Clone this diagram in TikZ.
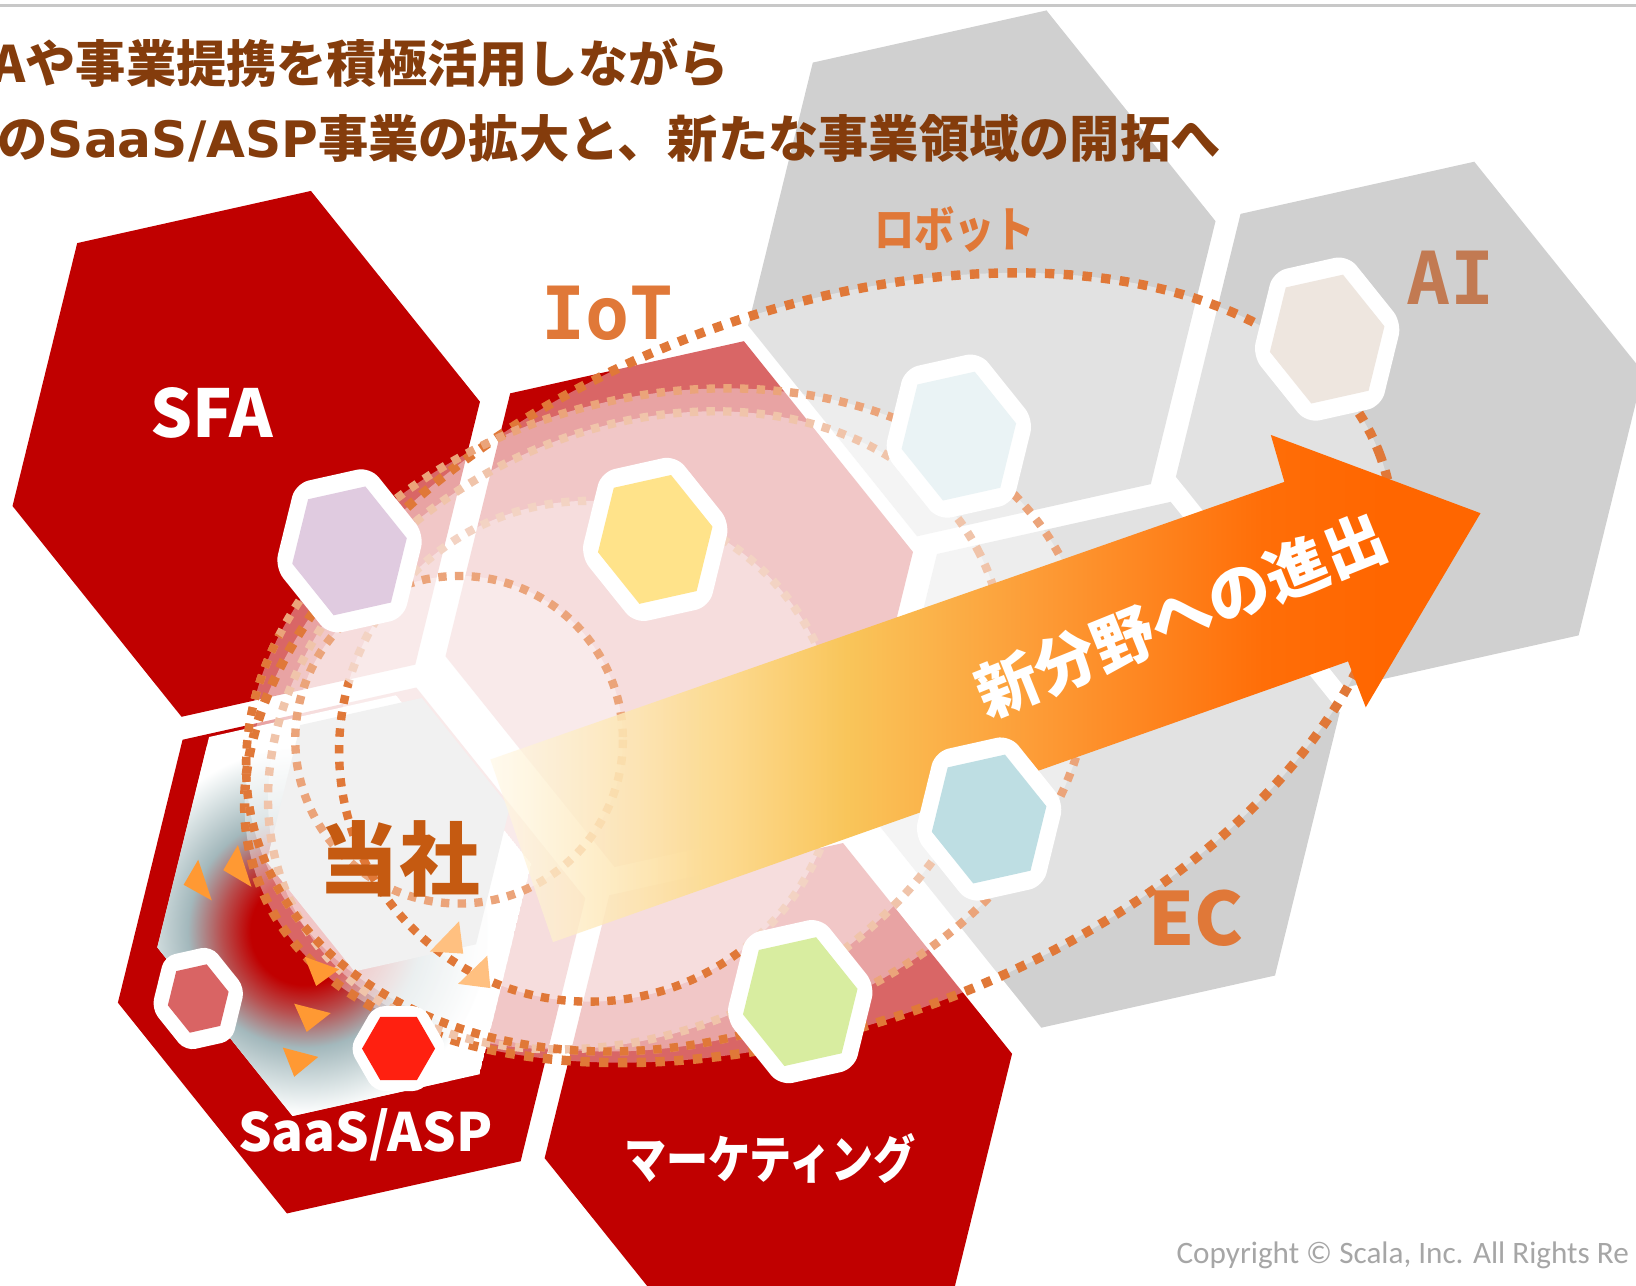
\documentclass[tikz,border=0pt]{standalone}
\usepackage{fontspec}
\newfontfamily\jpf{Noto Sans CJK JP}
\newfontfamily\latf{DejaVu Sans}
\newfontfamily\monof{DejaVu Sans Mono}
\newfontfamily\calf{Carlito}
\usetikzlibrary{shapes.geometric,fadings}
\definecolor{hexred}{HTML}{C00000}
\definecolor{hexgray}{HTML}{D0D0D0}
\definecolor{titlebrown}{HTML}{843C0C}
\definecolor{lblorange}{HTML}{E07838}
\definecolor{aibrown}{HTML}{C27A52}
\definecolor{tousha}{HTML}{C55A11}
\definecolor{dotdark}{HTML}{E07838}
\definecolor{dotmid}{HTML}{EBA47A}
\definecolor{dotlight}{HTML}{F0C4AA}
\definecolor{dotpale}{HTML}{F3D3C3}
\definecolor{cpurple}{HTML}{E0CBE0}
\definecolor{cyellow}{HTML}{FFE38A}
\definecolor{cpale}{HTML}{EAF3F5}
\definecolor{cbeige}{HTML}{EEE6DF}
\definecolor{cblue}{HTML}{BEDEE3}
\definecolor{cgreen}{HTML}{D8EDA0}
\definecolor{cpink}{HTML}{D96464}
\definecolor{cred}{HTML}{FF2010}
\definecolor{triorange}{HTML}{FF9933}
\definecolor{trilight}{HTML}{FFC080}
\definecolor{glowblue}{HTML}{A3B8BC}
\definecolor{glowmid}{HTML}{B85050}
\definecolor{glowlight}{HTML}{DCE5E6}
\definecolor{toushahex}{HTML}{F1F1F1}
\definecolor{arA}{HTML}{FFF8E4}
\definecolor{arB}{HTML}{FCD98E}
\definecolor{arC}{HTML}{F9C55A}
\definecolor{arD}{HTML}{FD9A35}
\definecolor{arE}{HTML}{FF6E08}
\definecolor{arF}{HTML}{FF6600}
\definecolor{copygray}{HTML}{A6A6A6}
\definecolor{topline}{HTML}{C8C8C8}

\pgfdeclareradialshading{glowshade}{\pgfpoint{0bp}{0bp}}{color(0bp)=(hexred); color(6.5bp)=(hexred); color(10bp)=(glowmid); color(14bp)=(glowblue); color(19bp)=(glowlight); color(22bp)=(white); color(50bp)=(white)}
\pgfdeclarehorizontalshading{arrowshade}{100bp}{color(0bp)=(arA); color(25bp)=(arA); color(37bp)=(arB); color(43bp)=(arC); color(53bp)=(arD); color(64bp)=(arE); color(70bp)=(arF); color(100bp)=(arF)}
\begin{tikzfadingfrompicture}[name=arrowfade]
  \fill[transparent!100] (-50bp,-50bp) rectangle (-44.8bp,50bp);
  \shade[left color=transparent!100, right color=transparent!0] (-45bp,-50bp) rectangle (-14bp,50bp);
  \fill[transparent!0] (-14.3bp,-50bp) rectangle (50bp,50bp);
\end{tikzfadingfrompicture}

% hexagon: centre (#1,#2), scale #3
\newcommand\hexpath[3]{({#1+#3*224},{#2-#3*50}) -- ({#1+#3*62},{#2-#3*252}) -- ({#1-#3*162},{#2-#3*202}) -- ({#1-#3*224},{#2+#3*50}) -- ({#1-#3*62},{#2+#3*252}) -- ({#1+#3*162},{#2+#3*202}) -- cycle}
\newcommand\smallhex[3]{%
  \fill[white, rounded corners=1.3mm] \hexpath{#1}{#2}{0.32};
  \fill[#3] \hexpath{#1}{#2}{0.245};}

\tikzset{
  ringfill/.style={fill=white, fill opacity=0.4},
  dotsA/.style={draw=dotdark, line width=0.9mm, dash pattern=on 0.9mm off 0.9mm},
  dotsB/.style={line width=0.8mm, dash pattern=on 0.8mm off 0.8mm},
  lbl/.style={inner sep=0pt, font=\jpf\bfseries},
  tri/.style={fill=triorange},
}

\begin{document}
\begin{tikzpicture}[x=0.1mm, y=-0.1mm]
\useasboundingbox (0,0) rectangle (1568,1232);
\draw[topline, line width=0.25mm] (0,5) -- (1568,5);

% big hexagons
\fill[hexred] \hexpath{236}{435}{1};   % SFA
\fill[hexred] \hexpath{651}{579}{1};   % IoT
\fill[hexred] \hexpath{337}{911}{1};   % SaaS
\fill[hexred] \hexpath{746}{1060}{1};  % marketing
\fill[hexgray] \hexpath{941}{262}{1};  % robot
\fill[hexgray] \hexpath{1351}{407}{1}; % AI
\fill[hexgray] \hexpath{1060}{733}{1}; % EC

% glow inside SaaS
\begin{scope}
  \clip \hexpath{330}{868}{0.8};
  \fill[white] \hexpath{330}{868}{0.8};
  \shade[shading=glowshade] (292,892) circle (200);
\end{scope}

% ring fills
\fill[ringfill, rotate around={21:(785,640)}] (785,640) ellipse [x radius=575, y radius=340];
\fill[ringfill, rotate around={15:(640,690)}] (640,690) ellipse [x radius=410, y radius=310];
\fill[ringfill, rotate around={28:(610,700)}] (610,700) ellipse [x radius=370, y radius=285];
\fill[ringfill] (565,720) circle (240);
\fill[ringfill] (440,709) circle (157);

% company hexagon
\fill[toushahex] \hexpath{372}{800}{0.52};

% dotted rings
\draw[dotsA, rotate around={21:(785,640)}] (785,640) ellipse [x radius=575, y radius=340];
\draw[dotsB, draw=dotmid, rotate around={15:(640,690)}] (640,690) ellipse [x radius=410, y radius=310];
\draw[dotsB, draw=dotlight, rotate around={28:(610,700)}] (610,700) ellipse [x radius=370, y radius=285];
\draw[dotsB, draw=dotpale] (565,720) circle (240);
\draw[dotsB, draw=dotmid] (440,709) circle (157);
\begin{scope}
  \clip (0,430) -- (1000,1100) -- (1000,1300) -- (0,1300) -- cycle;
  \draw[dotsB, draw=dotdark, rotate around={15:(640,690)}] (640,690) ellipse [x radius=410, y radius=310];
  \draw[dotsB, draw=dotdark] (565,720) circle (240);
\end{scope}

% arrow
\shade[shading=arrowshade, path fading=arrowfade, fit fading=true] (470,728) -- (1231,462) -- (1218,417) -- (1419,492) -- (1309,678) -- (1292,634) -- (530,903) -- cycle;

% small hexagons
\smallhex{335}{528}{cpurple}
\smallhex{628}{517}{cyellow}
\smallhex{919}{418}{cpale}
\smallhex{1272}{325}{cbeige}
\smallhex{948}{785}{cblue}
\smallhex{767}{960}{cgreen}
\fill[white, rounded corners=1mm] \hexpath{190}{957}{0.2};
\fill[cpink] \hexpath{190}{957}{0.13};
\node[regular polygon, regular polygon sides=6, minimum size=9.4mm, inner sep=0pt, fill=white, rounded corners=1mm] (redhexo) at (382,1005) {};
\node[regular polygon, regular polygon sides=6, minimum size=7.0mm, inner sep=0pt, fill=cred] (redhexi) at (382,1005) {};

% triangles
\fill[tri] (190,824) -- (176,848) -- (203,863) -- cycle;
\fill[tri] (228,810) -- (214,834) -- (241,850) -- cycle;
\fill[tri] (292,917) -- (303,945) -- (325,929) -- cycle;
\fill[tri] (282,962) -- (294,989) -- (317,971) -- cycle;
\fill[tri] (271,1004) -- (282,1032) -- (305,1013) -- cycle;
\fill[trilight] (440,883) -- (412,912) -- (444,914) -- cycle;
\fill[trilight] (467,916) -- (439,943) -- (470,947) -- cycle;

% labels
\node[lbl, text=titlebrown, anchor=west, font=\jpf\bfseries\fontsize{13.7pt}{16pt}\selectfont] (t1) at (-8,60) {Aや事業提携を積極活用しながら};
\node[lbl, text=titlebrown, anchor=west, font=\jpf\bfseries\fontsize{13.7pt}{16pt}\selectfont] (t2) at (-3,133) {の{\latf\bfseries SaaS/ASP}事業の拡大と、新たな事業領域の開拓へ};
\node[lbl, text=white, font=\jpf\bfseries\fontsize{18pt}{20pt}\selectfont] (sfa) at (203,396) {SFA};
\node[lbl, text=lblorange, font=\monof\bfseries\fontsize{20pt}{22pt}\selectfont] (iot) at (582,300) {IoT};
\node[lbl, text=lblorange, font=\jpf\bfseries\fontsize{13.2pt}{16pt}\selectfont] (robot) at (915,220) {\scalebox{0.83}[1]{ロボット}};
\node[lbl, text=aibrown, font=\monof\bfseries\fontsize{20pt}{22pt}\selectfont] (ai) at (1390,266) {AI};
\node[lbl, text=lblorange, font=\jpf\bfseries\fontsize{20pt}{22pt}\selectfont] (ec) at (1146,880) {EC};
\node[lbl, text=white, font=\jpf\bfseries\fontsize{14.4pt}{18pt}\selectfont] (saas) at (350,1088) {SaaS/ASP};
\node[lbl, text=white, font=\jpf\bfseries\fontsize{14pt}{18pt}\selectfont] (mkt) at (738,1110) {\scalebox{0.82}[1]{マーケティング}};
\node[lbl, text=tousha, font=\jpf\bfseries\fontsize{22pt}{24pt}\selectfont] (us) at (383,823) {当社};
\node[lbl, text=white, rotate=22, font=\jpf\bfseries\fontsize{17pt}{19pt}\selectfont] (adv) at (1132,590) {新分野への進出};
\node[inner sep=0pt, anchor=west, text=copygray, font=\calf\fontsize{8.5pt}{10pt}\selectfont] (copy) at (1127,1203) {Copyright © Scala, Inc. All Rights Re};
\end{tikzpicture}
\end{document}
